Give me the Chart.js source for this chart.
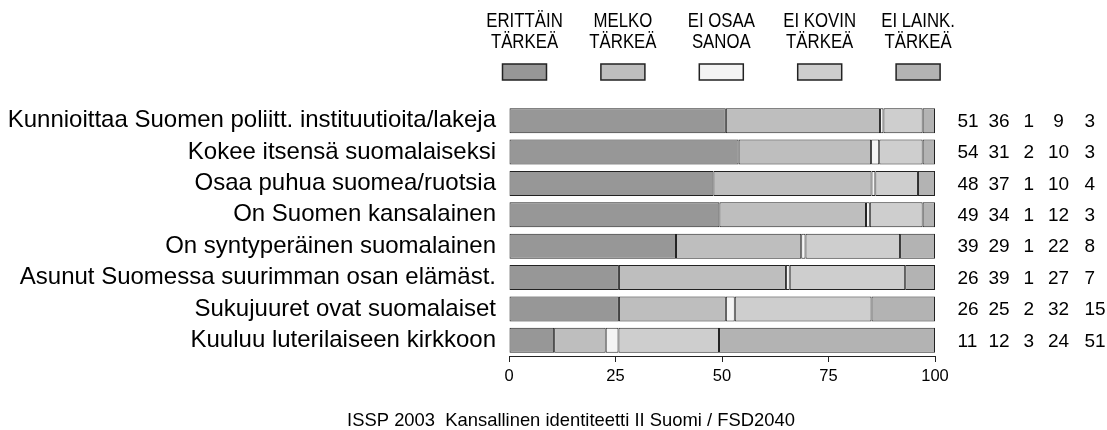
<!DOCTYPE html>
<html>
<head>
<meta charset="utf-8">
<script src="https://cdn.jsdelivr.net/npm/chart.js@4.4.1/dist/chart.umd.min.js"></script>
<style>
  html, body { margin:0; padding:0; background:#fff; }
  #chart { display:block; }
</style>
</head>
<body>
<canvas id="chart" width="1107" height="430"></canvas>
<script>
/* Data */
const categories = [
  'Kunnioittaa Suomen poliitt. instituutioita/lakeja',
  'Kokee itsensä suomalaiseksi',
  'Osaa puhua suomea/ruotsia',
  'On Suomen kansalainen',
  'On syntyperäinen suomalainen',
  'Asunut Suomessa suurimman osan elämäst.',
  'Sukujuuret ovat suomalaiset',
  'Kuuluu luterilaiseen kirkkoon'
];
const seriesNames = [
  ['ERITTÄIN', 'TÄRKEÄ'],
  ['MELKO', 'TÄRKEÄ'],
  ['EI OSAA', 'SANOA'],
  ['EI KOVIN', 'TÄRKEÄ'],
  ['EI LAINK.', 'TÄRKEÄ']
];
// bar lengths (percent)
const erittain = [50.9, 53.9, 48.0, 49.4, 39.2, 25.8, 25.8, 10.6];
const melko    = [36.2, 31.1, 37.1, 34.4, 29.4, 39.2, 25.1, 12.1];
const eiOsaa   = [0.8, 1.9, 0.9, 0.9, 1.0, 0.9, 2.1, 3.0];
const eiKovin  = [9.2, 10.2, 10.0, 12.4, 22.2, 27.1, 32.1, 23.6];
const eiLaink  = [2.9, 2.9, 4.0, 2.9, 8.2, 7.0, 14.9, 50.7];
// numbers printed on the right
const erittainTxt = [51, 54, 48, 49, 39, 26, 26, 11];
const melkoTxt    = [36, 31, 37, 34, 29, 39, 25, 12];
const eiOsaaTxt   = [1, 2, 1, 1, 1, 1, 2, 3];
const eiKovinTxt  = [9, 10, 10, 12, 22, 27, 32, 24];
const eiLainkTxt  = [3, 3, 4, 3, 8, 7, 15, 51];
const xTicks = [0, 25, 50, 75, 100];
const footer = 'ISSP 2003  Kansallinen identiteetti II Suomi / FSD2040';

const COLORS = ['#979797', '#bebebe', '#f4f4f4', '#cecece', '#b3b3b3'];
const EDGE = '#222';
const FONT = 'Arial, "Liberation Sans", sans-serif';

const seriesValues = [erittain, melko, eiOsaa, eiKovin, eiLaink];
const seriesTxt = [erittainTxt, melkoTxt, eiOsaaTxt, eiKovinTxt, eiLainkTxt];
// column anchors right of the plot
const numCols = [
  { dx: 22.5, align: 'left' },
  { dx: 53.5, align: 'left' },
  { dx: 88.5, align: 'left' },
  { dx: 123.5, align: 'center' },
  { dx: 149.5, align: 'left' }
];

const decor = {
  id: 'decor',
  afterDraw(chart) {
    const ctx = chart.ctx;
    const area = chart.chartArea;
    ctx.save();
    ctx.fillStyle = '#000';

    /* legend: two-line caption above a small box */
    seriesNames.forEach((lines, i) => {
      const cx = area.left + 15.5 + i * 98.4;
      ctx.save();
      ctx.translate(cx, 0);
      ctx.scale(0.8, 1);
      ctx.font = '21px ' + FONT;
      ctx.textAlign = 'center';
      ctx.textBaseline = 'alphabetic';
      ctx.fillText(lines[0], 0, 26.7);
      ctx.fillText(lines[1], 0, 48.3);
      ctx.restore();
      ctx.fillStyle = COLORS[i];
      ctx.fillRect(cx - 22, 64, 44, 16);
      ctx.strokeStyle = EDGE;
      ctx.lineWidth = 1.5;
      ctx.strokeRect(cx - 22, 64, 44, 16);
      ctx.fillStyle = '#000';
    });

    /* percentages on the right */
    const meta = chart.getDatasetMeta(0);
    ctx.font = '19px ' + FONT;
    ctx.textBaseline = 'middle';
    meta.data.forEach((bar, r) => {
      seriesTxt.forEach((arr, c) => {
        ctx.textAlign = numCols[c].align;
        ctx.fillText(String(arr[r]), area.right + numCols[c].dx, bar.y + 1);
      });
    });

    /* source line */
    ctx.font = '18.4px ' + FONT;
    ctx.textAlign = 'center';
    ctx.textBaseline = 'middle';
    ctx.fillText(footer, 571, 421);
    ctx.restore();
  }
};

new Chart(document.getElementById('chart'), {
  type: 'bar',
  data: {
    labels: categories,
    datasets: seriesValues.map((vals, i) => ({
      label: seriesNames[i].join(' '),
      data: vals,
      backgroundColor: COLORS[i],
      borderColor: EDGE,
      borderWidth: 1,
      borderSkipped: false,
      barPercentage: 0.8,
      categoryPercentage: 1
    }))
  },
  options: {
    indexAxis: 'y',
    responsive: false,
    animation: false,
    layout: { padding: { top: 105, right: 172, left: 0, bottom: 0 } },
    scales: {
      x: {
        stacked: true, min: 0, max: 100,
        afterBuildTicks: s => { s.ticks = xTicks.map(v => ({ value: v })); },
        afterFit: s => { s.height = 74; },
        grid: { drawOnChartArea: false, drawTicks: true, tickLength: 6, color: EDGE },
        border: { display: true, color: EDGE, width: 1 },
        ticks: { color: '#000', padding: 5, autoSkip: false, maxRotation: 0, font: { family: FONT, size: 16.5 } }
      },
      y: {
        stacked: true,
        afterFit: s => { s.width = 509; },
        grid: { display: false, drawTicks: false },
        border: { display: false },
        ticks: { color: '#000', padding: 13, autoSkip: false, font: { family: FONT, size: 24 } }
      }
    },
    plugins: { legend: { display: false }, tooltip: { enabled: false } }
  },
  plugins: [decor]
});
</script>
</body>
</html>
